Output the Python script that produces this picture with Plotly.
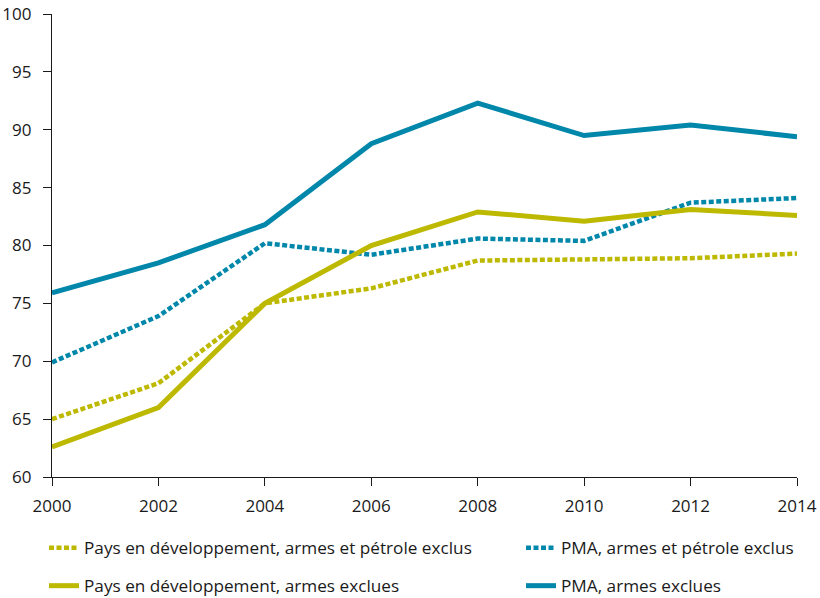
import plotly.graph_objects as go

years = [2000, 2002, 2004, 2006, 2008, 2010, 2012, 2014]
pd_armes_petrole = [65.0, 68.1, 75.0, 76.3, 78.7, 78.8, 78.9, 79.3]
pma_armes_petrole = [69.9, 73.9, 80.2, 79.2, 80.6, 80.4, 83.7, 84.1]
pd_armes = [62.6, 66.0, 75.0, 80.0, 82.9, 82.1, 83.1, 82.6]
pma_armes = [75.9, 78.5, 81.8, 88.8, 92.3, 89.5, 90.4, 89.4]
y_ticks = [60, 65, 70, 75, 80, 85, 90, 95, 100]

names = [
    "Pays en développement, armes et pétrole exclus",
    "PMA, armes et pétrole exclus",
    "Pays en développement, armes exclues",
    "PMA, armes exclues",
]

YELLOW = "#BDB800"
BLUE = "#0087AA"
FONT = "Open Sans"
TXT = "#1a1a1a"

fig = go.Figure()
fig.add_trace(go.Scatter(x=years, y=pd_armes_petrole, name=names[0], mode="lines",
                         line=dict(color=YELLOW, width=4.5, dash="5px,2.5px"), legend="legend"))
fig.add_trace(go.Scatter(x=years, y=pma_armes_petrole, name=names[1], mode="lines",
                         line=dict(color=BLUE, width=4.5, dash="5px,2.5px"), legend="legend2"))
fig.add_trace(go.Scatter(x=years, y=pd_armes, name=names[2], mode="lines",
                         line=dict(color=YELLOW, width=5), legend="legend3"))
fig.add_trace(go.Scatter(x=years, y=pma_armes, name=names[3], mode="lines",
                         line=dict(color=BLUE, width=5), legend="legend4"))

legend_common = dict(
    orientation="h", xref="container", yref="container",
    xanchor="left", yanchor="middle",
    font=dict(family=FONT, size=17.2, color=TXT), bgcolor="rgba(0,0,0,0)",
    itemwidth=30,
)
col1, col2 = 44 / 820, 521 / 820
row1, row2 = 1 - 548 / 598, 1 - 586 / 598

fig.update_layout(
    width=820, height=598,
    margin=dict(l=52, r=23, t=14, b=121),
    paper_bgcolor="white", plot_bgcolor="white",
    font=dict(family=FONT, size=17, color=TXT),
    showlegend=True,
    legend=dict(legend_common, x=col1, y=row1),
    legend2=dict(legend_common, x=col2, y=row1),
    legend3=dict(legend_common, x=col1, y=row2),
    legend4=dict(legend_common, x=col2, y=row2),
    xaxis=dict(range=[2000, 2014], tickvals=years, ticktext=[str(y) for y in years],
               showgrid=False, zeroline=False, showline=True, linecolor=TXT, linewidth=1.3,
               ticks="outside", ticklen=8, tickcolor=TXT, tickwidth=1.3, automargin=False,
               ticklabelstandoff=5),
    yaxis=dict(range=[60, 100], tickvals=y_ticks,
               showgrid=False, zeroline=False, showline=True, linecolor=TXT, linewidth=1.3,
               ticks="outside", ticklen=8, tickcolor=TXT, tickwidth=1.3, automargin=False,
               ticklabelstandoff=8),
)

fig.write_html("out.html", config={"displayModeBar": False},
               post_script="document.body.style.margin='0';")
